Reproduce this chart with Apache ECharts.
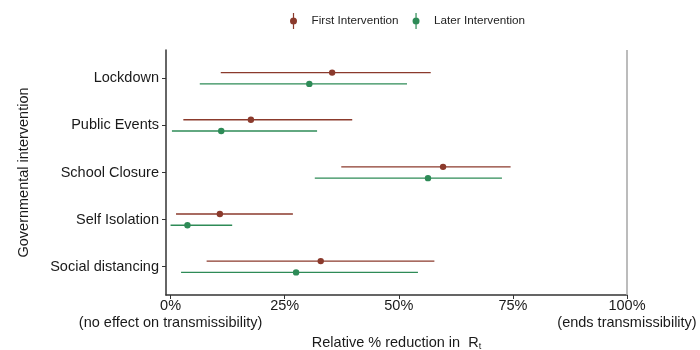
<!DOCTYPE html>
<html>
<head>
<meta charset="utf-8">
<script src="https://cdn.jsdelivr.net/npm/echarts@6/dist/echarts.min.js"></script>
<style>
  html, body { margin: 0; padding: 0; background: #fff; }
  #ChartDIV { width: 700px; height: 350px; }
</style>
</head>
<body>
<div id="ChartDIV"></div>
<script>
// interventions, top to bottom
var categories = ['Lockdown', 'Public Events', 'School Closure', 'Self Isolation', 'Social distancing'];

// relative % reduction in Rt: lower, estimate, upper
var firstLower = [11.0, 2.8, 37.4, 1.2, 7.9];
var firstMid   = [35.4, 17.6, 59.7, 10.8, 32.9];
var firstUpper = [57.0, 39.8, 74.5, 26.8, 57.8];

var laterLower = [6.4, 0.3, 31.6, 0.0, 2.3];
var laterMid   = [30.4, 11.1, 56.4, 3.7, 27.5];
var laterUpper = [51.8, 32.1, 72.6, 13.5, 54.2];

var xTicks = [0, 25, 50, 75, 100];
var dodge = 0.12;

var myChart = echarts.init(document.getElementById('ChartDIV'));

function buildData(lo, mid, up, shift) {
    var res = [];
    for (var i = 0; i < categories.length; i++) {
        res.push([lo[i], mid[i], up[i], i + 1 + shift]);
    }
    return res;
}

function renderBar(params, api) {
    var y = api.value(3);
    var a = api.coord([api.value(0), y]);
    var b = api.coord([api.value(2), y]);
    var m = api.coord([api.value(1), y]);
    var color = api.visual('color');
    return {
        type: 'group',
        children: [
            { type: 'line', shape: { x1: a[0], y1: a[1], x2: b[0], y2: b[1] },
              style: { stroke: color, lineWidth: 1.4 } },
            { type: 'circle', shape: { cx: m[0], cy: m[1], r: 3.2 },
              style: { fill: color } }
        ]
    };
}

var legendIcon = 'path://M3.4,0 L4.6,0 L4.6,16 L3.4,16 Z M0.5,8 A3.5,3.5 0 1 1 7.5,8 A3.5,3.5 0 1 1 0.5,8 Z';

var option = {
    animation: false,
    textStyle: { fontFamily: 'Liberation Sans, Arial, sans-serif' },
    legend: {
        top: 8,
        left: 285,
        itemWidth: 8,
        itemHeight: 16,
        itemGap: 14,
        icon: legendIcon,
        textStyle: { fontSize: 11.7, color: '#222', padding: [0, 0, 0, 9] },
        data: ['First Intervention', 'Later Intervention']
    },
    grid: { left: 166, right: 73, top: 50, bottom: 55, outerBoundsMode: 'none', containLabel: false },
    xAxis: {
        type: 'value',
        min: -1,
        max: 100,
        splitLine: { show: false },
        axisLine: { show: true, onZero: false, lineStyle: { color: '#333', width: 1.5 } },
        axisTick: { show: true, length: 4, customValues: xTicks, lineStyle: { color: '#333' } },
        axisLabel: {
            customValues: xTicks,
            fontSize: 14.5,
            color: '#1a1a1a',
            lineHeight: 17,
            margin: 2,
            formatter: function (v) {
                if (v === 0) return '0%\n(no effect on transmissibility)';
                if (v === 100) return '100%\n(ends transmissibility)';
                return v + '%';
            }
        },
        name: 'Relative % reduction in  R{sub|t}',
        nameLocation: 'middle',
        nameGap: 33,
        nameTextStyle: {
            fontSize: 14.5,
            color: '#1a1a1a',
            rich: { sub: { fontSize: 9, color: '#1a1a1a', padding: [6, 0, 0, 0] } }
        }
    },
    yAxis: {
        type: 'value',
        min: 0.4,
        max: 5.6,
        inverse: true,
        splitLine: { show: false },
        axisLine: { show: true, onZero: false, lineStyle: { color: '#333', width: 1.5 } },
        axisTick: { show: true, length: 4, customValues: [1, 2, 3, 4, 5], lineStyle: { color: '#333' } },
        axisLabel: {
            customValues: [1, 2, 3, 4, 5],
            fontSize: 14.5,
            color: '#1a1a1a',
            margin: 7,
            formatter: function (v) { return categories[Math.round(v) - 1]; }
        },
        name: 'Governmental intervention',
        nameLocation: 'middle',
        nameRotate: 90,
        nameGap: 135,
        nameTextStyle: { fontSize: 14.5, color: '#1a1a1a' }
    },
    series: [
        {
            name: 'First Intervention',
            type: 'custom',
            color: '#8B3A2C',
            itemStyle: { color: '#8B3A2C' },
            renderItem: renderBar,
            encode: { x: [0, 1, 2], y: 3 },
            data: buildData(firstLower, firstMid, firstUpper, -dodge),
            markLine: {
                silent: true,
                symbol: 'none',
                label: { show: false },
                lineStyle: { color: '#a6a6a6', width: 1.5, type: 'solid' },
                data: [{ xAxis: 100 }]
            }
        },
        {
            name: 'Later Intervention',
            type: 'custom',
            color: '#2E8B57',
            itemStyle: { color: '#2E8B57' },
            renderItem: renderBar,
            encode: { x: [0, 1, 2], y: 3 },
            data: buildData(laterLower, laterMid, laterUpper, dodge)
        }
    ]
};

myChart.setOption(option);
</script>
</body>
</html>
